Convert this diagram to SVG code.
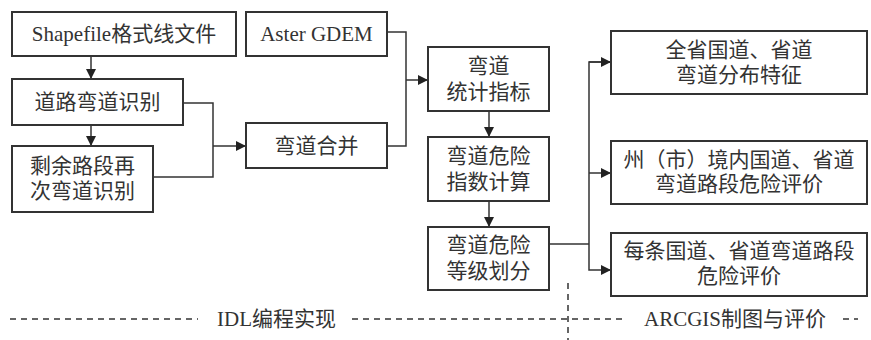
<svg xmlns="http://www.w3.org/2000/svg" width="871" height="340" viewBox="0 0 871 340">
<style>
.box{fill:#fff;stroke:#333;stroke-width:2}
.t{font-family:"Liberation Serif","Noto Sans CJK SC",serif;font-size:21px;fill:#333;text-anchor:middle;dominant-baseline:central}
.c{fill:none;stroke:#333;stroke-width:1.5}
.d{fill:none;stroke:#333;stroke-width:1.5;stroke-dasharray:6 5}
</style>
<defs>
<marker id="a" viewBox="0 0 10 10" refX="10" refY="5" markerWidth="10" markerHeight="10" markerUnits="userSpaceOnUse" orient="auto">
<path d="M0,0 L10,5 L0,10 z" fill="#222"/>
</marker>
</defs>
<rect width="871" height="340" fill="#fff"/>
<g id="connectors">
<path class="c" d="M91 56 V79" marker-end="url(#a)"/>
<path class="c" d="M91 125 V146" marker-end="url(#a)"/>
<path class="c" d="M183 103 H213 V177 H153"/>
<path class="c" d="M213 146 H246" marker-end="url(#a)"/>
<path class="c" d="M387 32 H406 V146 H387"/>
<path class="c" d="M406 80 H428" marker-end="url(#a)"/>
<path class="c" d="M489 111 V137" marker-end="url(#a)"/>
<path class="c" d="M489 201 V227" marker-end="url(#a)"/>
<path class="c" d="M549 244 H589"/>
<path class="c" d="M611 62 H589 V270 H611" marker-end="url(#a)"/>
<path class="c" d="M589 62 H611" marker-end="url(#a)"/>
<path class="c" d="M589 173 H611" marker-end="url(#a)"/>
</g>
<g id="shapefile"><rect class="box" x="12" y="12" width="224" height="44"/><text class="t" x="124" y="34">Shapefile格式线文件</text></g>
<g id="aster"><rect class="box" x="246" y="12" width="141" height="44"/><text class="t" x="316.5" y="34">Aster GDEM</text></g>
<g id="road-curve"><rect class="box" x="12" y="79" width="171" height="46"/><text class="t" x="97.5" y="102">道路弯道识别</text></g>
<g id="remaining"><rect class="box" x="12" y="146" width="141" height="66"/><text class="t" x="82.5" y="166">剩余路段再</text><text class="t" x="82.5" y="191">次弯道识别</text></g>
<g id="merge"><rect class="box" x="246" y="123" width="141" height="45"/><text class="t" x="316.5" y="146">弯道合并</text></g>
<g id="stats"><rect class="box" x="428" y="47" width="121" height="64"/><text class="t" x="488.5" y="66">弯道</text><text class="t" x="488.5" y="92">统计指标</text></g>
<g id="index"><rect class="box" x="428" y="137" width="121" height="64"/><text class="t" x="488.5" y="156">弯道危险</text><text class="t" x="488.5" y="182">指数计算</text></g>
<g id="grade"><rect class="box" x="428" y="227" width="121" height="63"/><text class="t" x="488.5" y="245">弯道危险</text><text class="t" x="488.5" y="271">等级划分</text></g>
<g id="province"><rect class="box" x="611" y="31" width="256" height="63"/><text class="t" x="739" y="50">全省国道、省道</text><text class="t" x="739" y="75">弯道分布特征</text></g>
<g id="prefecture"><rect class="box" x="611" y="141" width="256" height="63"/><text class="t" x="739" y="160">州（市）境内国道、省道</text><text class="t" x="739" y="184">弯道路段危险评价</text></g>
<g id="each-road"><rect class="box" x="611" y="233" width="256" height="63"/><text class="t" x="739" y="251">每条国道、省道弯道路段</text><text class="t" x="739" y="276">危险评价</text></g>
<g id="divider">
<path class="d" d="M10 319 H198"/>
<path class="d" d="M352 319 H624"/>
<path class="d" d="M843 319 H858"/>
<path class="d" d="M568 283 V340"/>
<text class="t" x="276.5" y="319">IDL编程实现</text>
<text class="t" x="735" y="319">ARCGIS制图与评价</text>
</g>
</svg>
